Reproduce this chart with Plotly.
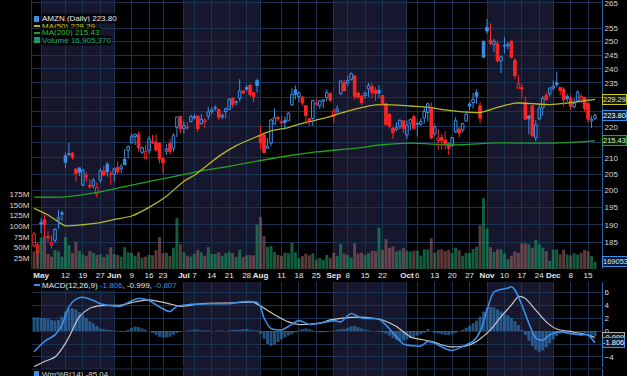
import math
import plotly.graph_objects as go

# ---------------- data ----------------
dates = [
    "2025-04-29", "2025-04-30",
    "2025-05-01", "2025-05-02", "2025-05-05", "2025-05-06", "2025-05-07", "2025-05-08", "2025-05-09",
    "2025-05-12", "2025-05-13", "2025-05-14", "2025-05-15", "2025-05-16",
    "2025-05-19", "2025-05-20", "2025-05-21", "2025-05-22", "2025-05-23",
    "2025-05-27", "2025-05-28", "2025-05-29", "2025-05-30",
    "2025-06-02", "2025-06-03", "2025-06-04", "2025-06-05", "2025-06-06",
    "2025-06-09", "2025-06-10", "2025-06-11", "2025-06-12", "2025-06-13",
    "2025-06-16", "2025-06-17", "2025-06-18", "2025-06-20",
    "2025-06-23", "2025-06-24", "2025-06-25", "2025-06-26", "2025-06-27", "2025-06-30",
    "2025-07-01", "2025-07-02", "2025-07-03",
    "2025-07-07", "2025-07-08", "2025-07-09", "2025-07-10", "2025-07-11",
    "2025-07-14", "2025-07-15", "2025-07-16", "2025-07-17", "2025-07-18",
    "2025-07-21", "2025-07-22", "2025-07-23", "2025-07-24", "2025-07-25",
    "2025-07-28", "2025-07-29", "2025-07-30", "2025-07-31",
    "2025-08-01",
    "2025-08-04", "2025-08-05", "2025-08-06", "2025-08-07", "2025-08-08",
    "2025-08-11", "2025-08-12", "2025-08-13", "2025-08-14", "2025-08-15",
    "2025-08-18", "2025-08-19", "2025-08-20", "2025-08-21", "2025-08-22",
    "2025-08-25", "2025-08-26", "2025-08-27", "2025-08-28", "2025-08-29",
    "2025-09-02", "2025-09-03", "2025-09-04", "2025-09-05",
    "2025-09-08", "2025-09-09", "2025-09-10", "2025-09-11", "2025-09-12",
    "2025-09-15", "2025-09-16", "2025-09-17", "2025-09-18", "2025-09-19",
    "2025-09-22", "2025-09-23", "2025-09-24", "2025-09-25", "2025-09-26",
    "2025-09-29", "2025-09-30",
    "2025-10-01", "2025-10-02", "2025-10-03",
    "2025-10-06", "2025-10-07", "2025-10-08", "2025-10-09", "2025-10-10",
    "2025-10-13", "2025-10-14", "2025-10-15", "2025-10-16", "2025-10-17",
    "2025-10-20", "2025-10-21", "2025-10-22", "2025-10-23", "2025-10-24",
    "2025-10-27", "2025-10-28", "2025-10-29", "2025-10-30", "2025-10-31",
    "2025-11-03", "2025-11-04", "2025-11-05", "2025-11-06", "2025-11-07",
    "2025-11-10", "2025-11-11", "2025-11-12", "2025-11-13", "2025-11-14",
    "2025-11-17", "2025-11-18", "2025-11-19", "2025-11-20", "2025-11-21",
    "2025-11-24", "2025-11-25", "2025-11-26", "2025-11-28",
    "2025-12-01", "2025-12-02", "2025-12-03", "2025-12-04", "2025-12-05",
    "2025-12-08", "2025-12-09", "2025-12-10", "2025-12-11", "2025-12-12",
    "2025-12-15", "2025-12-16", "2025-12-17",
]

opens = [
    184.0, 182.2,
    190.6, 191.4, 186.5, 184.3, 185.6, 191.4, 193.4, 210.7, 211.1, 211.5, 206.5, 206.9, 201.6, 204.6, 201.6, 201.4, 198.9, 203.1, 205.9, 208.0, 204.8,
    204.9, 207.1, 206.6, 209.6, 212.4, 214.8, 216.8, 217.4, 211.8, 209.9, 212.3, 215.2, 215.1, 214.7, 209.8, 212.1, 214.6, 213.1, 219.9, 223.5,
    219.5, 219.7, 221.8, 223.0, 223.5, 221.1, 221.6, 223.6, 225.1, 226.2, 225.9, 223.3, 225.1, 225.8, 229.7, 228.5, 229.6, 232.2, 233.4, 234.2, 231.6, 235.8,
    217.2, 217.4, 213.1, 214.7, 221.0, 223.1, 221.8, 222.2, 222.0, 227.4, 232.6, 230.2, 230.1, 227.1, 222.7, 222.8, 227.4, 227.1, 228.6, 229.9, 231.3,
    223.5, 225.2, 231.2, 235.2, 234.9, 236.3, 237.5, 231.5, 230.4, 230.6, 232.9, 233.8, 232.5, 232.4, 230.6, 227.8, 224.2, 219.6, 219.1, 220.1, 222.0,
    217.4, 221.0, 223.4, 221.0, 220.9, 222.9, 224.8, 226.2, 217.7, 215.6, 216.6, 215.7, 214.6, 213.9, 218.4, 219.3, 219.0, 221.9, 227.7, 228.2, 231.7, 227.1, 250.1,
    255.4, 250.4, 249.0, 249.2, 242.9, 248.3, 248.4, 250.2, 243.1, 233.2, 233.3, 228.1, 223.7, 227.1, 216.4, 222.6, 226.4, 230.7, 231.2,
    233.2, 235.0, 233.4, 232.8, 230.3, 229.6, 226.8, 228.8, 229.3, 229.9, 227.9, 222.0, 222.9,
]

highs = [
    188.0, 185.1,
    191.8, 192.9, 188.2, 187.0, 189.0, 194.3, 194.0, 211.7, 214.8, 211.9, 206.9, 206.9, 206.6, 205.6, 203.5, 203.9, 202.4, 206.7, 207.5, 208.8, 206.0,
    207.0, 208.9, 208.2, 212.8, 214.0, 217.9, 217.7, 218.4, 213.6, 214.1, 217.1, 217.4, 217.6, 214.9, 210.4, 214.3, 216.0, 218.0, 223.3, 223.8,
    221.9, 221.6, 224.0, 224.3, 224.0, 224.3, 222.8, 226.7, 226.7, 227.3, 226.1, 224.5, 226.4, 229.7, 230.0, 228.8, 236.3, 232.5, 234.3, 234.7, 231.8, 236.5,
    220.4, 217.4, 216.3, 222.7, 226.2, 223.8, 223.8, 223.5, 224.9, 233.1, 234.1, 231.9, 230.5, 227.3, 222.8, 229.1, 229.6, 229.0, 229.3, 232.7, 231.8,
    226.2, 227.2, 235.8, 236.0, 237.6, 238.8, 237.7, 231.8, 230.8, 231.9, 235.0, 234.9, 233.5, 234.2, 230.6, 227.8, 224.6, 220.1, 221.5, 222.6, 222.2,
    222.2, 222.8, 224.2, 221.7, 222.9, 226.7, 228.2, 228.3, 220.7, 219.3, 217.7, 218.6, 214.8, 216.7, 223.3, 220.0, 221.3, 225.4, 228.4, 231.5, 232.8, 228.4, 250.5,
    258.6, 257.0, 251.0, 250.4, 244.9, 251.8, 249.7, 250.4, 243.8, 237.7, 234.6, 230.2, 223.7, 227.4, 222.2, 227.3, 230.5, 231.7, 233.3,
    235.8, 239.0, 233.4, 233.5, 231.2, 230.8, 229.6, 232.4, 231.2, 230.1, 228.2, 223.7, 224.6,
]

lows = [
    183.7, 178.9,
    187.5, 186.4, 185.0, 183.4, 185.0, 188.8, 191.0, 206.8, 210.7, 209.5, 202.7, 204.4, 201.3, 202.6, 200.5, 200.6, 197.9, 202.2, 204.4, 204.2, 201.7,
    202.7, 205.0, 205.2, 207.6, 209.8, 214.6, 214.1, 212.1, 211.2, 209.7, 211.3, 214.4, 212.0, 208.3, 205.1, 211.0, 211.1, 212.0, 216.7, 218.0,
    217.9, 219.1, 221.4, 222.4, 218.4, 220.7, 219.7, 222.4, 224.2, 225.4, 222.2, 222.5, 222.9, 225.8, 226.4, 227.1, 228.6, 231.2, 231.9, 230.3, 228.3, 231.6,
    212.8, 211.4, 212.9, 213.7, 220.8, 221.9, 219.9, 219.1, 222.0, 227.0, 229.3, 228.3, 227.1, 220.9, 220.2, 220.4, 227.3, 226.0, 226.2, 228.7, 228.2,
    221.4, 224.4, 230.8, 231.9, 233.8, 235.8, 229.1, 229.6, 227.2, 229.5, 230.1, 229.7, 228.8, 229.7, 226.9, 220.7, 219.5, 216.2, 218.7, 219.3, 217.9,
    216.0, 218.9, 219.1, 216.9, 220.2, 221.2, 221.8, 216.0, 217.0, 212.6, 212.7, 212.8, 211.0, 213.6, 217.9, 216.5, 218.2, 221.9, 225.5, 226.2, 227.8, 221.2, 243.9,
    252.9, 248.7, 246.2, 242.2, 238.5, 245.6, 247.2, 243.8, 236.5, 232.9, 229.5, 222.4, 217.5, 216.7, 215.2, 222.3, 223.8, 228.8, 230.2,
    232.3, 233.6, 230.6, 226.8, 228.4, 225.6, 226.2, 228.6, 228.0, 225.1, 221.3, 219.6, 222.2,
]

closes = [
    187.39, 184.42,
    190.20, 189.98, 186.35, 185.01, 188.71, 192.08, 193.06, 208.64, 211.37, 210.25, 205.17, 205.59, 206.16, 204.07, 201.12, 203.10, 200.99, 206.02, 204.72, 205.70, 205.01,
    206.65, 205.71, 207.23, 207.91, 213.57, 216.98, 217.61, 213.20, 213.24, 212.10, 216.10, 214.82, 212.52, 209.69, 208.47, 212.77, 211.99, 217.12, 223.30, 219.39,
    220.46, 219.92, 223.41, 223.47, 219.36, 222.54, 222.26, 225.02, 225.69, 226.35, 223.19, 223.88, 226.13, 229.30, 227.47, 228.29, 232.23, 231.44, 232.79, 231.01, 230.19, 234.11,
    214.75, 211.65, 213.75, 222.31, 223.13, 222.69, 221.30, 221.47, 224.56, 230.98, 231.03, 231.49, 228.01, 223.81, 221.95, 228.84, 227.94, 228.71, 229.12, 231.60, 229.00,
    225.34, 225.99, 235.68, 232.33, 235.84, 238.24, 230.33, 229.95, 228.15, 231.43, 234.05, 231.62, 231.23, 231.48, 227.63, 220.71, 220.21, 218.15, 219.78, 222.17, 219.57,
    220.63, 222.41, 219.51, 220.90, 221.78, 225.22, 227.74, 216.37, 220.07, 216.39, 215.57, 214.47, 213.04, 216.48, 222.03, 217.95, 221.09, 224.21, 226.97, 229.25, 230.30, 222.86, 244.22,
    254.00, 249.32, 250.20, 243.04, 244.41, 248.40, 249.10, 244.20, 237.58, 234.69, 232.87, 222.55, 222.69, 217.14, 220.69, 226.28, 229.67, 229.16, 233.22,
    233.88, 234.42, 232.38, 229.11, 229.53, 226.89, 227.92, 231.78, 230.28, 226.19, 222.54, 222.56, 223.80,
]
prev_close_before_start = 187.70

volumes_m = [
    41, 55,
    74, 77, 35, 29, 44, 41, 29, 75, 56, 38, 64, 43, 34, 30, 42, 38, 33, 34, 28, 34, 51,
    35, 33, 29, 51, 39, 38, 31, 39, 27, 29, 33, 32, 44, 75, 37, 38, 31, 50, 119, 58,
    39, 31, 29, 36, 45, 39, 31, 51, 35, 35, 39, 31, 37, 40, 37, 28, 45, 28, 32, 33, 32, 104,
    122, 77, 52, 54, 40, 33, 31, 38, 37, 61, 39, 25, 30, 36, 32, 37, 22, 26, 21, 33, 26,
    38, 30, 59, 36, 33, 27, 60, 36, 38, 33, 37, 43, 42, 97, 45, 70, 49, 53, 41, 44, 49,
    43, 41, 43, 43, 31, 46, 46, 72, 38, 45, 46, 42, 45, 38, 50, 44, 31, 38, 38, 47, 52, 102, 166,
    95, 51, 40, 46, 46, 36, 23, 31, 41, 38, 60, 60, 58, 50, 68, 58, 50, 42, 19,
    45, 46, 34, 45, 34, 32, 37, 34, 38, 45, 42, 30, 16.9,
]
last_volume = 16905370

ma50_dates = ["2025-04-29", "2025-05-05", "2025-05-08", "2025-05-12", "2025-05-19", "2025-05-27", "2025-06-02",
              "2025-06-09", "2025-06-16", "2025-06-24", "2025-07-01", "2025-07-07", "2025-07-16", "2025-07-23",
              "2025-07-30", "2025-08-06", "2025-08-13", "2025-08-20", "2025-08-27", "2025-09-04", "2025-09-11",
              "2025-09-18", "2025-09-25", "2025-10-02", "2025-10-09", "2025-10-16", "2025-10-23", "2025-10-30",
              "2025-11-06", "2025-11-13", "2025-11-20", "2025-11-28", "2025-12-05", "2025-12-12", "2025-12-17"]
ma50_vals = [194.7, 192.8, 190.8, 189.7, 190.0, 190.6, 191.5, 192.5, 195.0, 198.3, 202.8, 204.6, 210.5, 213.9,
             216.4, 218.7, 219.8, 221.5, 222.8, 224.6, 226.2, 227.4, 227.4, 227.0, 226.6, 225.7, 225.0, 224.8,
             226.5, 228.0, 227.8, 227.5, 228.0, 228.8, 229.29]

ma200_dates = ["2025-04-29", "2025-05-12", "2025-05-27", "2025-06-06", "2025-06-26", "2025-07-09", "2025-07-21",
               "2025-08-01", "2025-08-13", "2025-08-25", "2025-09-11", "2025-09-22", "2025-10-02", "2025-10-16",
               "2025-10-23", "2025-11-06", "2025-11-20", "2025-12-05", "2025-12-17"]
ma200_vals = [198.0, 198.1, 199.6, 201.4, 204.2, 206.0, 207.4, 209.2, 210.7, 211.9, 213.2, 214.2, 214.7, 214.2,
              214.2, 214.8, 214.7, 214.9, 215.43]

macd_dates = ["2025-04-29", "2025-05-02", "2025-05-07", "2025-05-09", "2025-05-13", "2025-05-15", "2025-05-19",
              "2025-05-22", "2025-05-27", "2025-06-04", "2025-06-06", "2025-06-11", "2025-06-16", "2025-06-20",
              "2025-06-25", "2025-06-27", "2025-07-03", "2025-07-14", "2025-07-21", "2025-07-25", "2025-07-31",
              "2025-08-01", "2025-08-04", "2025-08-06", "2025-08-11", "2025-08-13", "2025-08-18", "2025-08-21",
              "2025-08-26", "2025-09-02", "2025-09-04", "2025-09-09", "2025-09-12", "2025-09-19", "2025-09-23",
              "2025-09-26", "2025-09-30", "2025-10-07", "2025-10-09", "2025-10-13", "2025-10-16", "2025-10-20",
              "2025-10-23", "2025-10-28", "2025-10-30", "2025-11-03", "2025-11-05", "2025-11-11", "2025-11-12",
              "2025-11-13", "2025-11-17", "2025-11-19", "2025-11-21", "2025-11-25", "2025-11-28", "2025-12-03",
              "2025-12-08", "2025-12-11", "2025-12-15", "2025-12-17"]
macd_vals = [-3.2, -1.6, -0.6, 0.9, 3.7, 4.9, 5.2, 4.7, 4.2, 3.8, 4.4, 5.0, 4.7, 3.7, 3.0, 3.8, 4.1, 4.2, 4.2,
             4.5, 4.4, 3.7, 2.0, 0.4, 0.15, 0.7, 1.6, 1.0, 1.2, 1.6, 1.4, 2.7, 2.0, 1.8, 0.9, -0.9, -2.0, -2.3,
             -1.6, -1.9, -2.7, -3.0, -2.4, -1.6, -0.1, 3.2, 6.0, 6.6, 6.8, 6.3, 4.0, 1.2, -1.1, -1.4, -0.6, -0.1,
             -0.4, -0.6, -0.6, -1.806]

signal_dates = ["2025-04-29", "2025-05-02", "2025-05-07", "2025-05-12", "2025-05-14", "2025-05-16", "2025-05-21",
                "2025-05-27", "2025-06-04", "2025-06-10", "2025-06-16", "2025-06-24", "2025-06-30", "2025-07-09",
                "2025-07-21", "2025-07-30", "2025-08-04", "2025-08-07", "2025-08-13", "2025-08-18", "2025-08-26",
                "2025-08-29", "2025-09-09", "2025-09-17", "2025-09-22", "2025-09-26", "2025-10-02", "2025-10-10",
                "2025-10-17", "2025-10-24", "2025-10-29", "2025-11-04", "2025-11-07", "2025-11-12", "2025-11-14",
                "2025-11-18", "2025-11-21", "2025-11-26", "2025-12-02", "2025-12-08", "2025-12-15", "2025-12-17"]
signal_vals = [-5.5, -4.7, -4.0, -1.9, 0.15, 2.2, 3.5, 3.9, 4.0, 4.5, 4.8, 4.3, 3.8, 4.2, 4.3, 4.4, 3.5, 2.5,
               1.4, 1.0, 1.2, 1.7, 2.1, 2.0, 1.7, 0.7, -0.9, -1.6, -2.4, -2.3, -1.6, 0.2, 2.2, 4.0, 5.3, 5.0, 3.2,
               1.4, 0.3, -0.1, -0.6, -0.999]

hist_vals = [
    2.1, 2.1,
    2.0, 2.0, 1.9, 1.7, 1.6, 1.7, 2.2, 3.0, 3.4, 3.5, 3.3, 2.9, 2.4, 2.0, 1.5, 1.2, 0.8, 0.4, 0.3, 0.2, 0.15,
    0.1, 0.0, -0.1, -0.1, 0.2, 0.5, 0.7, 0.6, 0.4, 0.2, 0.0, -0.3, -0.6, -0.9, -1.0, -1.0, -0.9, -0.6, -0.3, -0.1,
    0.0, 0.1, 0.1, 0.2, 0.2, 0.1, 0.1, 0.1, 0.0, 0.0, 0.1, 0.1, 0.0, 0.1, 0.2, 0.2, 0.2, 0.3, 0.3, 0.2, 0.1, 0.1,
    -0.4, -1.2, -2.0, -2.3, -2.1, -1.7, -1.3, -1.0, -0.7, -0.5, -0.2, 0.1, 0.3, 0.4, 0.3, 0.1, -0.1, -0.2, -0.2, -0.1, 0.0,
    0.1, 0.2, 0.3, 0.3, 0.5, 0.7, 0.8, 0.6, 0.4, 0.2, 0.1, 0.0, 0.0, -0.1, -0.2, -0.4, -0.7, -1.1, -1.4, -1.6, -1.5,
    -1.3, -1.1, -0.9, -0.7, -0.5, -0.3, 0.3, 0.0, -0.3, -0.4, -0.5, -0.6, -0.6, -0.5, -0.3, 0.0, 0.2, 0.5, 0.8, 1.2, 1.6, 2.2, 3.0,
    3.6, 3.7, 3.6, 3.3, 3.0, 2.7, 2.4, 2.0, 1.5, 0.9, 0.2, -0.6, -1.5, -2.3, -2.9, -3.2, -3.0, -2.5, -1.9,
    -1.3, -0.8, -0.4, -0.1, 0.1, 0.1, 0.0, -0.1, -0.2, -0.3, -0.4, -0.6, -0.807,
]
willr_last = -85.04

tick_dates = ["2025-05-01", "2025-05-12", "2025-05-19", "2025-05-27", "2025-06-02", "2025-06-09", "2025-06-16",
              "2025-06-23", "2025-07-01", "2025-07-07", "2025-07-14", "2025-07-21", "2025-07-28", "2025-08-01",
              "2025-08-11", "2025-08-18", "2025-08-25", "2025-09-02", "2025-09-08", "2025-09-15", "2025-09-22",
              "2025-10-01", "2025-10-06", "2025-10-13", "2025-10-20", "2025-10-27", "2025-11-03", "2025-11-10",
              "2025-11-17", "2025-11-24", "2025-12-01", "2025-12-08", "2025-12-15"]
tick_labels = ["May", "12", "19", "27", "Jun", "9", "16", "23", "Jul", "7", "14", "21", "28", "Aug", "11", "18",
               "25", "Sep", "8", "15", "22", "Oct", "6", "13", "20", "27", "Nov", "10", "17", "24", "Dec", "8", "15"]
shaded_months = [("2025-05-01", "2025-06-02"), ("2025-07-01", "2025-08-01"),
                 ("2025-09-02", "2025-10-01"), ("2025-11-03", "2025-12-01")]
price_ticks = [185, 190, 195, 200, 205, 210, 215, 220, 225, 230, 235, 240, 245, 250, 255, 265]
volume_ticks = [25, 50, 75, 100, 125, 150, 175]
macd_ticks = [-4, -2, 0, 2, 4, 6]

# ---------------- style ----------------
W, H = 627, 376
L, R = 32, 25
BLUE = "#3b8fe6"
RED = "#ff2424"
GRID = "#1a3352"
BAND = "#16162c"
AXIS = "#2c64a0"
TXT = "#d8d8d8"
FONT = "Liberation Sans"
YEL = "#b8b824"
GRN = "#24a024"

def py(pix):  # paper y from pixel row
    return 1 - pix / H

def px(pix):  # paper x from pixel column
    return (pix - L) / (W - L - R)

price_dom = [py(269), 1.0]
macd_dom = [py(367), py(282)]
wr_dom = [0.0, py(369)]

fig = go.Figure()

# volume (base axis y, drawn underneath)
prevs = [prev_close_before_start] + closes[:-1]
vol_colors = ["rgba(30,160,105,0.58)" if c >= p else "rgba(160,100,100,0.58)" for c, p in zip(closes, prevs)]
fig.add_trace(go.Bar(x=dates, y=volumes_m, marker=dict(color=vol_colors, line=dict(width=0)),
                     width=0.85, xaxis="x", yaxis="y", hoverinfo="skip"))

# MA lines
fig.add_trace(go.Scatter(x=ma200_dates, y=ma200_vals, mode="lines", line=dict(color=GRN, width=1.3, shape="spline", smoothing=0.6),
                         xaxis="x", yaxis="y2", hoverinfo="skip"))
fig.add_trace(go.Scatter(x=ma50_dates, y=ma50_vals, mode="lines", line=dict(color=YEL, width=1.3, shape="spline", smoothing=0.6),
                         xaxis="x", yaxis="y2", hoverinfo="skip"))

# candles: wicks
for col, is_up in ((BLUE, True), (RED, False)):
    wx, wy = [], []
    for d, o, h, l, c, p in zip(dates, opens, highs, lows, closes, prevs):
        if (c >= p) != is_up:
            continue
        top, bot = max(o, c), min(o, c)
        wx += [d, d, None, d, d, None]
        wy += [h, top, None, bot, l, None]
    fig.add_trace(go.Scatter(x=wx, y=wy, mode="lines", line=dict(color=col, width=1), connectgaps=False,
                             xaxis="x", yaxis="y2", hoverinfo="skip"))

# candles: bodies (hollow when close > open, colour by close vs previous close)
for col, is_up in ((BLUE, True), (RED, False)):
    for hollow in (True, False):
        bx, bb, bh = [], [], []
        for d, o, c, p in zip(dates, opens, closes, prevs):
            if (c >= p) != is_up or (c > o) != hollow:
                continue
            bx.append(d)
            bb.append(min(o, c))
            bh.append(max(abs(c - o), 0.25))
        fig.add_trace(go.Bar(x=bx, y=bh, base=bb, width=0.74,
                             marker=dict(color="rgba(0,0,0,0)" if hollow else col, line=dict(color=col, width=1)),
                             xaxis="x", yaxis="y2", hoverinfo="skip"))

# MACD
fig.add_trace(go.Bar(x=dates, y=hist_vals, width=0.85,
                     marker=dict(color="rgba(55,130,200,0.62)", line=dict(width=0)),
                     xaxis="x2", yaxis="y3", hoverinfo="skip"))
fig.add_trace(go.Scatter(x=signal_dates, y=signal_vals, mode="lines",
                         line=dict(color="#c8c8c8", width=1.2, shape="spline", smoothing=0.7),
                         xaxis="x2", yaxis="y3", hoverinfo="skip"))
fig.add_trace(go.Scatter(x=macd_dates, y=macd_vals, mode="lines",
                         line=dict(color=BLUE, width=1.6, shape="spline", smoothing=0.7),
                         xaxis="x2", yaxis="y3", hoverinfo="skip"))
# Williams %R panel placeholder (values outside view)
fig.add_trace(go.Scatter(x=[dates[0]], y=[willr_last], mode="lines", xaxis="x3", yaxis="y4", hoverinfo="skip"))

# ---------------- shapes ----------------
shapes = []
for a, b in shaded_months:
    for dom in (price_dom, [0.0, macd_dom[1]]):
        shapes.append(dict(type="rect", xref="x", yref="paper", x0=dates.index(a), x1=dates.index(b),
                           y0=dom[0], y1=dom[1], fillcolor=BAND, line=dict(width=0), layer="below"))
# highlight box round the last candle
li = len(dates) - 1
shapes.append(dict(type="rect", xref="x", yref="y2", x0=li - 0.8, x1=li + 0.8,
                   y0=math.log10(lows[-1] - 0.6), y1=math.log10(highs[-1] + 0.6),
                   line=dict(color="#c8c820", width=1), fillcolor="rgba(120,120,20,0.35)", layer="above"))
# panel separator lines
shapes.append(dict(type="line", xref="paper", yref="paper", x0=0, x1=1, y0=wr_dom[1], y1=wr_dom[1],
                   line=dict(color=GRID, width=1)))
# legend icons
shapes.append(dict(type="rect", xref="paper", yref="paper", x0=px(34), x1=px(39), y0=py(22), y1=py(16),
                   fillcolor=BLUE, line=dict(width=0)))
shapes.append(dict(type="line", xref="paper", yref="paper", x0=px(34), x1=px(40), y0=py(26), y1=py(26),
                   line=dict(color=YEL, width=2)))
shapes.append(dict(type="line", xref="paper", yref="paper", x0=px(34), x1=px(40), y0=py(33), y1=py(33),
                   line=dict(color=GRN, width=2)))
shapes.append(dict(type="rect", xref="paper", yref="paper", x0=px(34), x1=px(40), y0=py(43), y1=py(37),
                   fillcolor="#1a9a6a", line=dict(width=0)))
shapes.append(dict(type="line", xref="paper", yref="paper", x0=px(34), x1=px(40), y0=py(285), y1=py(285),
                   line=dict(color=BLUE, width=2)))
shapes.append(dict(type="rect", xref="paper", yref="paper", x0=px(34), x1=px(39), y0=py(376), y1=py(371),
                   fillcolor=BLUE, line=dict(width=0)))

# ---------------- annotations ----------------
ann = []
def legend_text(text, ypix, color):
    ann.append(dict(text=text, xref="paper", yref="paper", x=px(41), y=py(ypix), xanchor="left", yanchor="middle",
                    showarrow=False, font=dict(family=FONT, size=8, color=color), bgcolor="rgba(0,0,0,0.75)",
                    borderpad=0))

legend_text(f"AMZN (Daily) {closes[-1]:.2f}", 19, "#e6e6e6")
legend_text(f"MA(50) {ma50_vals[-1]:.2f}", 26, "#d0d02a")
legend_text(f"MA(200) {ma200_vals[-1]:.2f}", 33, "#36b836")
legend_text(f"Volume {last_volume:,}", 40, "#22a878")
legend_text(f"MACD(12,26,9) <span style='color:{BLUE}'>{macd_vals[-1]:.3f}</span>, {signal_vals[-1]:.3f}, "
            f"<span style='color:{BLUE}'>{hist_vals[-1]:.3f}</span>", 285, "#e6e6e6")
legend_text(f"Wm%R(14) {willr_last:.2f}", 374, "#cfcfcf")

def value_box(text, yref, yval, border, fg, bg):
    ann.append(dict(text=text, xref="paper", yref=yref, x=1.0, y=yval, xanchor="left", yanchor="middle",
                    xshift=0, showarrow=False, font=dict(family=FONT, size=7.5, color=fg),
                    bordercolor=border, borderwidth=1, borderpad=0, bgcolor=bg))

value_box(f"{ma50_vals[-1]:.2f}", "y2", math.log10(ma50_vals[-1]), "#c8c820", "#e8e8b0", "#1a1a08")
value_box(f"{closes[-1]:.2f}", "y2", math.log10(closes[-1]), BLUE, "#ffffff", "#0c1a30")
value_box(f"{ma200_vals[-1]:.2f}", "y2", math.log10(ma200_vals[-1]), "#2aa02a", "#d8f0d8", "#081a08")
value_box(f"{last_volume}", "y", volumes_m[-1], BLUE, "#d8e8ff", "#0c1a30")
value_box(f"{signal_vals[-1]:.3f}", "y3", signal_vals[-1], "#b0b0b0", "#f0f0f0", "#181818")
value_box(f"{macd_vals[-1]:.3f}", "y3", macd_vals[-1], BLUE, "#ffffff", "#0c1a30")

ticktext = [f"<b>{t}</b>" if t.isalpha() else t for t in tick_labels]

common_x = dict(type="category", categoryorder="array", categoryarray=dates, range=[-0.6, len(dates) + 1.0],
                tickmode="array", tickvals=tick_dates, showgrid=True, gridcolor=GRID, gridwidth=1,
                zeroline=False, showline=False, ticks="", fixedrange=True, automargin=False, tickangle=0)

fig.update_layout(
    width=W, height=H, margin=dict(l=L, r=R, t=0, b=0, autoexpand=False),
    paper_bgcolor="#000000", plot_bgcolor="#000000", showlegend=False, barmode="overlay",
    font=dict(family=FONT, size=8, color=TXT),
    xaxis=dict(common_x, anchor="y", domain=[0, 1], ticktext=ticktext, showticklabels=True,
               tickfont=dict(family=FONT, size=8, color="#e8e8e8")),
    xaxis2=dict(common_x, anchor="y3", domain=[0, 1], matches="x", showticklabels=False),
    xaxis3=dict(common_x, anchor="y4", domain=[0, 1], matches="x", showticklabels=False),
    yaxis=dict(domain=price_dom, range=[0, 630], side="left", tickmode="array", tickvals=volume_ticks,
               ticktext=[f"{v}M" for v in volume_ticks], showgrid=False, zeroline=False, automargin=False,
               showline=True, linecolor=GRID, ticks="", tickfont=dict(size=8, color=TXT)),
    yaxis2=dict(overlaying="y", side="right", type="log", anchor="x", automargin=False,
                range=[math.log10(177.8), math.log10(266.1)], tickmode="array", tickvals=price_ticks,
                showgrid=True, gridcolor=GRID, zeroline=False, showline=True, linecolor=AXIS, ticks="",
                ticklabeloverflow="allow", tickfont=dict(size=8, color=TXT)),
    yaxis3=dict(domain=macd_dom, anchor="x2", side="right", range=[-5.54, 7.54], tickmode="array",
                tickvals=macd_ticks, showgrid=True, gridcolor=GRID, zeroline=False, showline=True,
                linecolor=AXIS, ticks="", automargin=False, tickfont=dict(size=8, color=TXT)),
    yaxis4=dict(domain=wr_dom, anchor="x3", side="right", range=[-10, 0], showticklabels=False,
                showgrid=False, zeroline=False, showline=True, linecolor=AXIS, automargin=False),
    shapes=shapes, annotations=ann,
)

fig.write_html("out.html", config={"displayModeBar": False},
               post_script="document.body.style.margin='0';document.body.style.background='#000';")
